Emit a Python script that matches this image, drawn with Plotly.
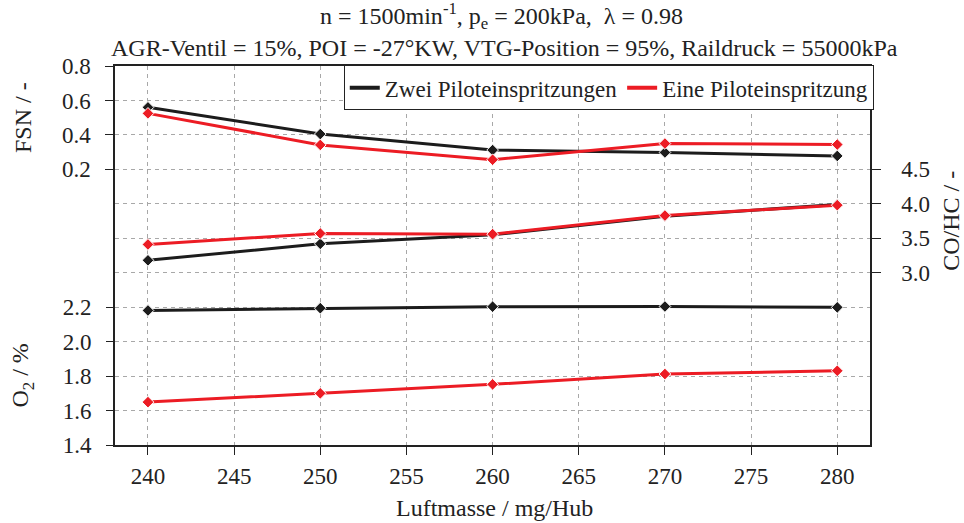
import plotly.graph_objects as go

# Luftmasse (mg/Hub)
luftmasse = [240, 250, 260, 270, 280]

# Zwei Piloteinspritzungen
fsn_zwei = [0.56, 0.405, 0.312, 0.298, 0.278]
cohc_zwei = [3.18, 3.42, 3.55, 3.82, 3.99]
o2_zwei = [2.181, 2.194, 2.203, 2.204, 2.199]

# Eine Piloteinspritzung
fsn_eine = [0.525, 0.342, 0.256, 0.350, 0.344]
cohc_eine = [3.41, 3.57, 3.56, 3.83, 3.98]
o2_eine = [1.649, 1.700, 1.752, 1.812, 1.831]

x_ticks = [240, 245, 250, 255, 260, 265, 270, 275, 280]
fsn_ticks = [0.2, 0.4, 0.6, 0.8]
cohc_ticks = [3.0, 3.5, 4.0, 4.5]
o2_ticks = [1.4, 1.6, 1.8, 2.0, 2.2]

BLACK = "#1c1c1c"
RED = "#ec1c24"
GRID = "#a8a8a8"
TEXT = "#222"
FONT = "Liberation Serif"

fig = go.Figure()


def add_series(y, axis, color):
    fig.add_trace(go.Scatter(
        x=luftmasse, y=y, yaxis=axis, mode="lines+markers",
        line=dict(color=color, width=3),
        marker=dict(symbol="diamond", size=9, color=color,
                    line=dict(color="white", width=1)),
        showlegend=False, hoverinfo="skip",
    ))


add_series(fsn_zwei, "y", BLACK)
add_series(fsn_eine, "y", RED)
add_series(cohc_zwei, "y3", BLACK)
add_series(cohc_eine, "y3", RED)
add_series(o2_zwei, "y2", BLACK)
add_series(o2_eine, "y2", RED)

# legend entries (line only)
fig.add_trace(go.Scatter(x=[None], y=[None], mode="lines", name="Zwei Piloteinspritzungen",
                         line=dict(color=BLACK, width=4)))
fig.add_trace(go.Scatter(x=[None], y=[None], mode="lines", name="Eine Piloteinspritzung",
                         line=dict(color=RED, width=4)))

tick_font = dict(family=FONT, size=23, color=TEXT)

fig.update_layout(
    width=964, height=523,
    margin=dict(l=115, r=94, t=66, b=78),
    paper_bgcolor="white", plot_bgcolor="white",
    font=dict(family=FONT, size=23, color=TEXT),
    showlegend=True,
    legend=dict(
        orientation="h", x=0.303, y=1.002, xanchor="left", yanchor="top",
        bgcolor="white", bordercolor=TEXT, borderwidth=1,
        font=dict(family=FONT, size=23, color=TEXT),
        itemwidth=30, tracegroupgap=0,
    ),
    xaxis=dict(
        range=[238.087, 281.9], tickvals=x_ticks, ticks="outside", ticklen=8,
        tickcolor=TEXT, tickfont=tick_font, ticklabelstandoff=2,
        showline=True, linecolor=TEXT, linewidth=1.5, mirror=True,
        showgrid=True, gridcolor=GRID, griddash="4px,4px", gridwidth=1,
        zeroline=False,
    ),
    yaxis=dict(
        range=[-1.4, 0.8], tickvals=fsn_ticks, tickformat=".1f",
        ticks="outside", ticklen=8, tickcolor=TEXT, tickfont=tick_font,
        ticklabelstandoff=10,
        showline=True, linecolor=TEXT, linewidth=1.5,
        showgrid=True, gridcolor=GRID, griddash="4px,4px", gridwidth=1,
        minor=dict(dtick=0.2, tick0=0, showgrid=True, gridcolor=GRID,
                   griddash="4px,4px", gridwidth=1, ticks=""),
        zeroline=False,
    ),
    yaxis2=dict(
        overlaying="y", side="left", range=[1.4, 3.6], tickvals=o2_ticks,
        tickformat=".1f", ticks="outside", ticklen=8, tickcolor=TEXT,
        tickfont=tick_font, ticklabelstandoff=10,
        showline=False, showgrid=False, zeroline=False,
    ),
    yaxis3=dict(
        overlaying="y", side="right", range=[0.5, 6.0], tickvals=cohc_ticks,
        tickformat=".1f", ticks="outside", ticklen=9, tickcolor=TEXT,
        tickfont=tick_font, ticklabelstandoff=16,
        showline=True, linecolor=TEXT, linewidth=1.5,
        showgrid=False, zeroline=False,
    ),
)

annotations = [
    dict(text="n = 1500min<sup>-1</sup>, p<sub>e</sub> = 200kPa,  λ = 0.98",
         x=0.5125, y=1.132),
    dict(text="AGR-Ventil = 15%, POI = -27°KW, VTG-Position = 95%, Raildruck = 55000kPa",
         x=0.5165, y=1.047),
    dict(text="Luftmasse / mg/Hub", x=0.503, y=-0.166),
    dict(text="FSN / -", x=-0.1225, y=0.864, textangle=-90),
    dict(text="O<sub>2</sub> / %", x=-0.1225, y=0.182, textangle=-90),
    dict(text="CO/HC / -", x=1.107, y=0.591, textangle=-90),
]
for a in annotations:
    fig.add_annotation(xref="paper", yref="paper", xanchor="center", yanchor="middle",
                       showarrow=False, font=dict(family=FONT, size=24, color=TEXT), **a)

fig.write_html("out.html")
